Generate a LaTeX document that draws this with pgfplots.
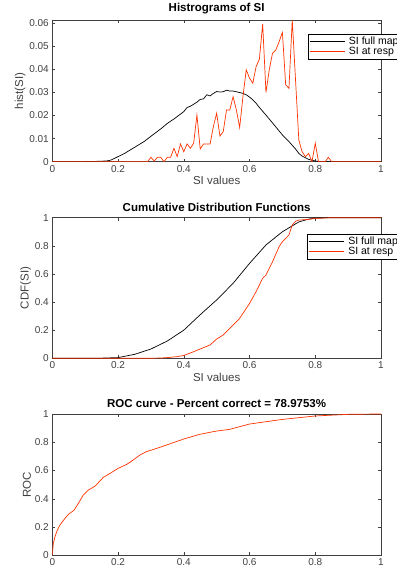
\documentclass[border=0pt]{standalone}
\usepackage{fontspec}
\setmainfont{Liberation Sans}
\usepackage{pgfplots}
\pgfplotsset{compat=1.18}
\definecolor{mred}{RGB}{255,51,0}
\definecolor{axgray}{RGB}{64,64,64}
\pgfplotsset{
  mstyle/.style={
    scale only axis,
    width=328.7pt,
    anchor=south west,
    axis line style={axgray, line width=0.5pt},
    tick style={axgray, line width=0.5pt},
    major tick length=3pt,
    tick align=inside,
    xtick pos=both, ytick pos=both,
    xmin=0, xmax=1,
    xtick={0,0.2,0.4,0.6,0.8,1},
    xticklabels={0,0.2,0.4,0.6,0.8,1},
    scaled ticks=false,
    ticklabel style={font=\fontsize{10}{11}\selectfont, text=axgray},
    label style={font=\fontsize{11.5}{12}\selectfont, text=axgray},
    title style={font=\fontsize{11.5}{12}\selectfont\bfseries, text=black, yshift=-3pt},
    legend cell align=left,
    legend style={draw=black, line width=0.5pt, font=\fontsize{10.5}{10.5}\selectfont, inner sep=1pt, row sep=-3pt, text=black},
    legend image code/.code={\draw[#1] (0pt,0pt) -- (35pt,0pt); \path (37pt,0pt);},
  },
}
\begin{document}
\begin{tikzpicture}
\useasboundingbox (0pt,0pt) rectangle (396pt,572pt);
% ---------------- Histogram ----------------
\begin{axis}[mstyle,
  at={(52.3pt,410.3pt)}, height=141.7pt,
  ymin=0, ymax=0.0614,
  ytick={0,0.01,0.02,0.03,0.04,0.05,0.06},
  yticklabels={0,0.01,0.02,0.03,0.04,0.05,0.06},
  title={Histrograms of SI},
  xlabel={SI values}, ylabel={hist(SI)},
  xlabel style={yshift=3pt}, ylabel style={yshift=-3pt},
  legend style={at={(0.778,0.901)}, anchor=north west},
]
\addplot[black, line width=0.7pt] coordinates {
(0,0) (0.08,0) (0.12,0.0001) (0.15,0.0002) (0.17,0.0004) (0.18,0.0008) (0.20,0.0022) (0.22,0.0036)
(0.25,0.0062) (0.28,0.0088) (0.30,0.011) (0.33,0.0142) (0.35,0.0166) (0.37,0.0185)
(0.40,0.0217) (0.41,0.0235) (0.42,0.024) (0.44,0.0258) (0.45,0.027) (0.46,0.0272)
(0.47,0.029) (0.48,0.0285) (0.49,0.0296) (0.50,0.0304) (0.51,0.0302) (0.52,0.0303)
(0.53,0.031) (0.54,0.0306) (0.55,0.0306) (0.56,0.0303) (0.58,0.0296) (0.59,0.029)
(0.60,0.028) (0.61,0.0268) (0.62,0.0253) (0.63,0.0235) (0.65,0.0202) (0.67,0.0168)
(0.70,0.0116) (0.72,0.0087) (0.74,0.0055) (0.75,0.0036) (0.76,0.0024) (0.78,0.001)
(0.80,0.0003) (0.82,0) (1,0)
};
\addlegendentry{SI full map}
\addplot[mred, line width=0.7pt] coordinates {
(0,0) (0.29,0) (0.30,0.0019) (0.31,0.0003) (0.32,0.0019) (0.33,0.0019) (0.34,0)
(0.35,0.0019) (0.36,0.0019) (0.37,0.0058) (0.38,0.0022) (0.39,0.0077) (0.40,0.0043)
(0.41,0.0077) (0.42,0.0058) (0.43,0.008) (0.44,0.0202) (0.45,0.0055) (0.46,0.0077)
(0.47,0.0077) (0.48,0.0077) (0.49,0.0152) (0.50,0.021) (0.51,0.0111) (0.52,0.013)
(0.53,0.0224) (0.54,0.0224) (0.55,0.0282) (0.56,0.0224) (0.57,0.0148) (0.58,0.0282)
(0.59,0.0398) (0.60,0.0362) (0.61,0.034) (0.62,0.0412) (0.63,0.0444) (0.64,0.0597)
(0.65,0.030) (0.66,0.0398) (0.67,0.047) (0.68,0.0484) (0.69,0.052) (0.70,0.056)
(0.71,0.0333) (0.72,0.0318) (0.73,0.0614) (0.75,0.0094) (0.76,0.0043) (0.77,0.0022)
(0.78,0.0036) (0.79,0) (0.80,0.008) (0.81,0) (0.83,0) (0.84,0.0019) (0.85,0) (1,0)
};
\addlegendentry{SI at resp}
\end{axis}
% ---------------- CDF ----------------
\begin{axis}[mstyle,
  at={(52.3pt,213.7pt)}, height=140.6pt,
  ymin=0, ymax=1,
  ytick={0,0.2,0.4,0.6,0.8,1},
  yticklabels={0,0.2,0.4,0.6,0.8,1},
  title={Cumulative Distribution Functions},
  xlabel={SI values}, ylabel={CDF(SI)},
  xlabel style={yshift=3pt}, ylabel style={yshift=-3pt},
  legend style={at={(0.776,0.884)}, anchor=north west},
]
\addplot[black, line width=0.7pt] coordinates {
(0,0) (0.10,0) (0.15,0.001) (0.20,0.005) (0.25,0.028) (0.30,0.066) (0.35,0.123)
(0.40,0.20) (0.45,0.31) (0.50,0.415) (0.55,0.533) (0.60,0.675) (0.65,0.806)
(0.70,0.90) (0.75,0.97) (0.78,0.99) (0.80,0.997) (0.85,1) (1,1)
};
\addlegendentry{SI full map}
\addplot[mred, line width=0.7pt] coordinates {
(0,0) (0.29,0) (0.33,0.002) (0.35,0.005) (0.38,0.012) (0.40,0.02) (0.43,0.047)
(0.45,0.066) (0.48,0.095) (0.50,0.137) (0.52,0.166) (0.55,0.237) (0.57,0.284)
(0.60,0.39) (0.62,0.474) (0.64,0.569) (0.65,0.592) (0.67,0.687) (0.69,0.794)
(0.70,0.829) (0.72,0.877) (0.73,0.948) (0.74,0.975) (0.75,0.983) (0.78,0.988)
(0.80,0.995) (0.85,1) (1,1)
};
\addlegendentry{SI at resp}
\end{axis}
% ---------------- ROC ----------------
\begin{axis}[mstyle,
  at={(52.3pt,16.7pt)}, height=141.3pt,
  ymin=0, ymax=1,
  ytick={0,0.2,0.4,0.6,0.8,1},
  yticklabels={0,0.2,0.4,0.6,0.8,1},
  title={ROC curve - Percent correct = 78.9753\%},
  ylabel={ROC}, ylabel style={yshift=-3pt},
]
\addplot[mred, line width=0.7pt] coordinates {
(0,0) (0.003,0.083) (0.008,0.13) (0.015,0.177) (0.023,0.213) (0.038,0.26)
(0.049,0.29) (0.066,0.319) (0.079,0.366) (0.094,0.426) (0.109,0.461) (0.13,0.489)
(0.155,0.551) (0.175,0.579) (0.2,0.615) (0.226,0.643) (0.246,0.674) (0.266,0.709)
(0.286,0.733) (0.327,0.764) (0.4,0.823) (0.448,0.856) (0.499,0.879) (0.539,0.891)
(0.6,0.929) (0.701,0.962) (0.8,0.986) (0.904,0.998) (1,1)
};
\end{axis}
\end{tikzpicture}
\end{document}
